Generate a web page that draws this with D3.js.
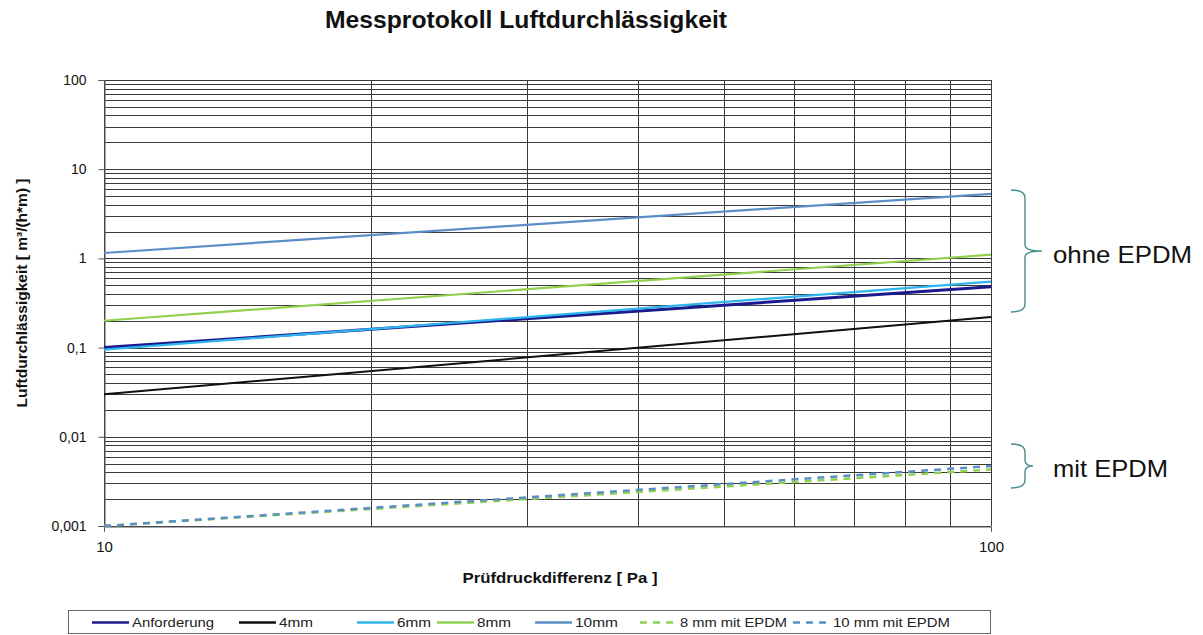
<!DOCTYPE html>
<html><head><meta charset="utf-8">
<script src="https://cdn.jsdelivr.net/npm/d3@7"></script>
<style>body{margin:0;background:#fff}svg{display:block;font-family:Arial,"Liberation Sans",sans-serif}</style>
</head><body><svg id="c" width="1203" height="635"></svg>
<script>
const pressure = [10, 100];
const seriesNames = ["Anforderung","4mm","6mm","8mm","10mm","8 mm mit EPDM","10 mm mit EPDM"];
const anforderung = [0.1, 0.48];
const mm4 = [0.03, 0.22];
const mm6 = [0.095, 0.55];
const mm8 = [0.2, 1.1];
const mm10 = [1.15, 5.3];
const mm8EPDM = [0.001, 0.0043];
const mm10EPDM = [0.001, 0.0047];
const yTickLabels = ["0,001","0,01","0,1","1","10","100"];
const xTickLabels = ["10","100"];

const svg = d3.select("#c");
const m = {l:104, r:991, t:80, b:526};
const x = d3.scaleLog().domain([10,100]).range([m.l, m.r]);
const y = d3.scaleLog().domain([0.001,100]).range([m.b, m.t]);

// grid
const yMinor = [];
for (let e=-3;e<2;e++) for (let k=1;k<=9;k++) yMinor.push(k*Math.pow(10,e));
yMinor.push(100);
svg.append("g").selectAll("line").data(yMinor).join("line")
  .attr("x1", m.l).attr("x2", m.r).attr("y1", d=>Math.round(y(d))+0.5).attr("y2", d=>Math.round(y(d))+0.5)
  .attr("stroke","#3a3a3a").attr("stroke-width",1);
const xMinor = [10,20,30,40,50,60,70,80,90,100];
svg.append("g").selectAll("line").data(xMinor).join("line")
  .attr("y1", m.t).attr("y2", m.b).attr("x1", d=>Math.round(x(d))+0.5).attr("x2", d=>Math.round(x(d))+0.5)
  .attr("stroke","#3a3a3a").attr("stroke-width",1);

// axes
const yMajor = [0.001,0.01,0.1,1,10,100];
const yAxis = d3.axisLeft(y).tickValues(yMajor).tickFormat((d,i)=>yTickLabels[i]).tickSize(6).tickPadding(12);
const gy = svg.append("g").attr("transform",`translate(${m.l+0.5},0)`).call(yAxis);
gy.select(".domain").attr("stroke","#555");
gy.selectAll(".tick line").attr("stroke","#555");
gy.selectAll("text").attr("font-size",14).attr("fill","#111");
const xAxis = d3.axisBottom(x).tickValues([10,100]).tickFormat((d,i)=>xTickLabels[i]).tickSize(5).tickPadding(10);
const gx = svg.append("g").attr("transform",`translate(0,${m.b+0.5})`).call(xAxis);
gx.select(".domain").attr("stroke","#555");
gx.selectAll(".tick line").attr("stroke","#555");
gx.selectAll("text").attr("font-size",15).attr("fill","#111");

// series
const series = [
  {name:seriesNames[5], v:mm8EPDM, c:"#92d050", w:2.5, dash:"7,6"},
  {name:seriesNames[6], v:mm10EPDM, c:"#5b8ec6", w:2.5, dash:"7,6"},
  {name:seriesNames[1], v:mm4, c:"#111111", w:2, dash:null},
  {name:seriesNames[0], v:anforderung, c:"#1a1a8c", w:3, dash:null},
  {name:seriesNames[2], v:mm6, c:"#2fb5ee", w:2.2, dash:null},
  {name:seriesNames[3], v:mm8, c:"#8fd14f", w:2.2, dash:null},
  {name:seriesNames[4], v:mm10, c:"#5b8ec6", w:2.2, dash:null}
];
const line = d3.line().x((d,i)=>x(pressure[i])).y(d=>y(d));
svg.append("g").selectAll("path").data(series).join("path")
  .attr("d", d=>line(d.v)).attr("fill","none").attr("stroke", d=>d.c)
  .attr("stroke-width", d=>d.w).attr("stroke-dasharray", d=>d.dash);

function txt(px, py, s, size, weight, anchor, len, rot) {
  const t = svg.append("text").attr("font-size",size).attr("font-weight",weight)
    .attr("text-anchor",anchor).attr("fill","#111").text(s);
  if (rot) t.attr("transform",`translate(${px},${py}) rotate(${rot})`);
  else t.attr("x",px).attr("y",py);
  if (len) t.attr("textLength",len).attr("lengthAdjust","spacingAndGlyphs");
  return t;
}
// titles
txt(526, 28, "Messprotokoll Luftdurchlässigkeit", 23, "bold", "middle", 402);
txt(560, 583, "Prüfdruckdifferenz [ Pa ]", 15, "bold", "middle", 195);
txt(27, 293, "Luftdurchlässigkeit [ m³/(h*m) ]", 15, "bold", "middle", 229, -90);

// brackets
function brace(x0, y0, y1, tipX) {
  const ym = (y0+y1)/2, xm = x0+14;
  return `M${x0},${y0} Q${xm},${y0} ${xm},${y0+8} L${xm},${ym-6} Q${xm},${ym} ${tipX},${ym} Q${xm},${ym} ${xm},${ym+6} L${xm},${y1-8} Q${xm},${y1} ${x0},${y1}`;
}
svg.append("path").attr("d", brace(1011,190,312,1042)).attr("fill","none").attr("stroke","#4a8c8c").attr("stroke-width",1.4);
svg.append("path").attr("d", brace(1011,444,488,1033)).attr("fill","none").attr("stroke","#4a8c8c").attr("stroke-width",1.4);
txt(1053, 263, "ohne EPDM", 24, "normal", "start", 139);
txt(1053, 477, "mit EPDM", 24, "normal", "start", 115);

// legend
const lg = svg.append("g");
lg.append("rect").attr("x",68.5).attr("y",610.5).attr("width",922).attr("height",23).attr("fill","#fff").attr("stroke","#666");
const legItems = [
  {s:series[3], x:92, w:82}, {s:series[2], x:239, w:34}, {s:series[4], x:357, w:34}, {s:series[5], x:437, w:34},
  {s:series[6], x:535, w:43}, {s:series[0], x:640, w:107}, {s:series[1], x:793, w:117}
];
legItems.forEach(it=>{
  lg.append("line").attr("x1",it.x).attr("x2",it.x+37).attr("y1",622.5).attr("y2",622.5)
    .attr("stroke",it.s.c).attr("stroke-width",2.5).attr("stroke-dasharray", it.s.dash?"7,6":null);
  lg.append("text").attr("x",it.x+40).attr("y",627).attr("font-size",12).attr("fill","#222")
    .attr("textLength",it.w).attr("lengthAdjust","spacingAndGlyphs").text(it.s.name);
});
</script></body></html>
